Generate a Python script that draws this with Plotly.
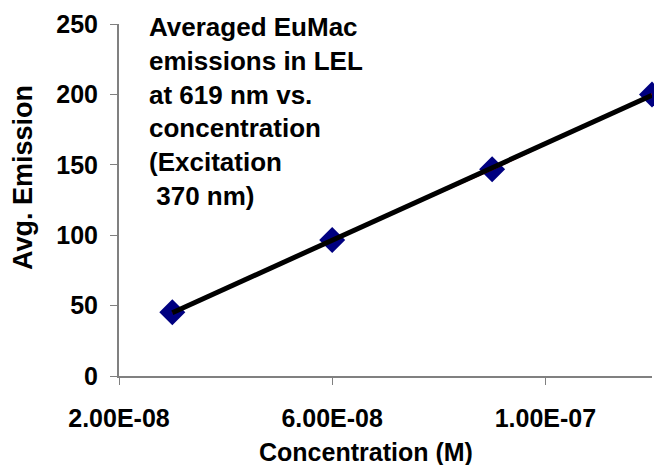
import numpy as np
import plotly.graph_objects as go

# ---- data ----
concentration = [3.0e-08, 6.0e-08, 9.0e-08, 1.2e-07]
avg_emission = [45.2, 96.6, 146.8, 200.0]
x_tick_vals = [2e-08, 6e-08, 1e-07]
x_tick_text = ["2.00E-08", "6.00E-08", "1.00E-07"]
y_tick_vals = [0, 50, 100, 150, 200, 250]
title_lines = ["Averaged EuMac", "emissions in LEL", "at 619 nm vs.",
               "concentration", "(Excitation", "&nbsp;370 nm)"]

# linear trend line (least squares) computed from the data
xs = np.array(concentration) * 1e8
slope, intercept = np.polyfit(xs, np.array(avg_emission), 1)
fit_x = [concentration[0], concentration[-1]]
fit_y = [slope * (v * 1e8) + intercept for v in fit_x]

FONT = "Liberation Sans, Arial, sans-serif"
OFF = 8  # default body margin of the page
WIN_W, WIN_H = 662, 465
W, H = WIN_W - OFF, WIN_H - OFF
# plot area in window pixels: x 119..652, y 24..376
L, R, T, B = 119 - OFF, WIN_W - 652, 24 - OFF, WIN_H - 376
pw, ph = W - L - R, H - T - B


def px_to_paper(px, py):
    # px, py are window pixel coordinates
    return (px - OFF - L) / pw, (H - B - (py - OFF)) / ph


fig = go.Figure()
fig.add_trace(go.Scatter(
    x=concentration, y=avg_emission, mode="markers",
    marker=dict(symbol="diamond", size=20, color="#000080"),
    showlegend=False, hoverinfo="x+y", cliponaxis=False))
fig.add_trace(go.Scatter(
    x=concentration, y=avg_emission, mode="lines",
    line=dict(color="#FF0000", width=2), showlegend=False))
fig.add_trace(go.Scatter(
    x=fit_x, y=fit_y, mode="lines",
    line=dict(color="#000000", width=5), showlegend=False))

axis_common = dict(
    showline=True, linecolor="#808080", linewidth=2,
    ticks="outside", ticklen=7, tickcolor="#808080", tickwidth=1,
    showgrid=False, zeroline=False, automargin=False,
    tickfont=dict(family=FONT, size=25, color="#000000", weight="bold"),
)

fig.update_layout(
    width=W, height=H, autosize=False,
    margin=dict(l=L, r=R, t=T, b=B, autoexpand=False),
    paper_bgcolor="white", plot_bgcolor="white",
    xaxis=dict(range=[2e-08, 1.2e-07], tickvals=x_tick_vals,
               ticktext=x_tick_text, ticklabelstandoff=12, **axis_common),
    yaxis=dict(range=[0, 250], tickvals=y_tick_vals,
               ticklabelstandoff=7, **axis_common),
)

tx, ty = px_to_paper(147, 10)
fig.add_annotation(
    x=tx, y=ty, xref="paper", yref="paper", xanchor="left", yanchor="top",
    text="<br>".join(title_lines), showarrow=False, align="left",
    font=dict(family=FONT, size=26, color="#000000", weight="bold"))

ax, ay = px_to_paper(366, 452)
fig.add_annotation(
    x=ax, y=ay, xref="paper", yref="paper", xanchor="center", yanchor="middle",
    text="Concentration (M)", showarrow=False,
    font=dict(family=FONT, size=25, color="#000000", weight="bold"))

bx, by = px_to_paper(23, 178)
fig.add_annotation(
    x=bx, y=by, xref="paper", yref="paper", xanchor="center", yanchor="middle",
    text="Avg. Emission", showarrow=False, textangle=-90,
    font=dict(family=FONT, size=27, color="#000000", weight="bold"))

fig.write_html("out.html")
